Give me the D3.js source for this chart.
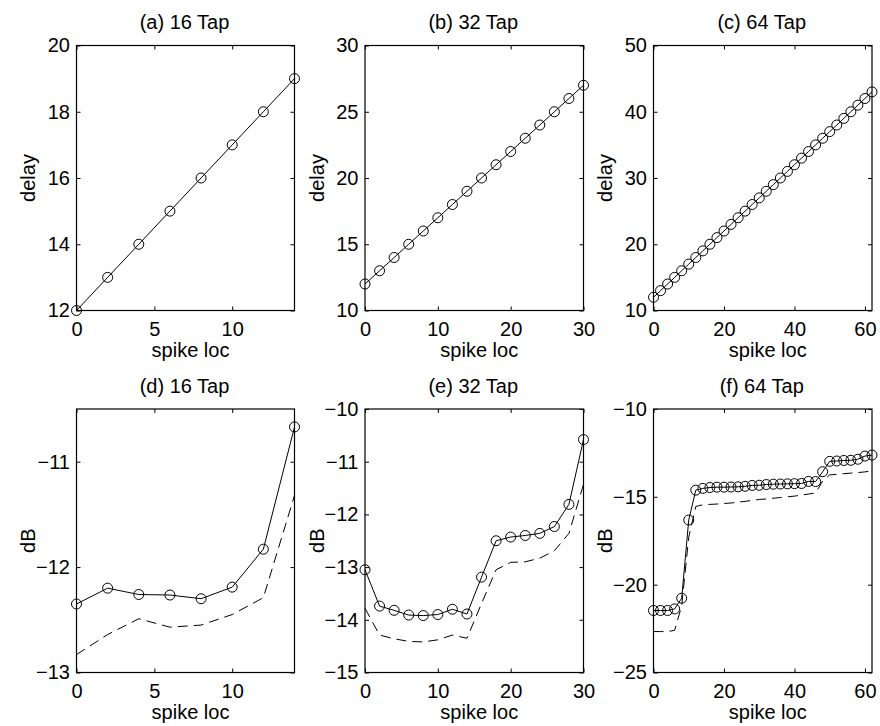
<!DOCTYPE html>
<html>
<head>
<meta charset="utf-8">
<script src="https://cdn.jsdelivr.net/npm/d3@7/dist/d3.min.js"></script>
<style>
  html, body { margin: 0; padding: 0; background: #fff; }
  svg { display: block; font-family: "Liberation Sans", Arial, Helvetica, sans-serif; }
</style>
</head>
<body>
<svg id="chart" width="880" height="726"></svg>
<script>
// ---------------- data ----------------
const titles = ["(a) 16 Tap", "(b) 32 Tap", "(c) 64 Tap", "(d) 16 Tap", "(e) 32 Tap", "(f) 64 Tap"];
const xLabel = "spike loc";
const yLabelTop = "delay";
const yLabelBottom = "dB";

const spikeLoc16 = [0, 2, 4, 6, 8, 10, 12, 14];
const spikeLoc32 = [0, 2, 4, 6, 8, 10, 12, 14, 16, 18, 20, 22, 24, 26, 28, 30];
const spikeLoc64 = [0, 2, 4, 6, 8, 10, 12, 14, 16, 18, 20, 22, 24, 26, 28, 30,
                    32, 34, 36, 38, 40, 42, 44, 46, 48, 50, 52, 54, 56, 58, 60, 62];

const delay16 = [12, 13, 14, 15, 16, 17, 18, 19];
const delay32 = [12, 13, 14, 15, 16, 17, 18, 19, 20, 21, 22, 23, 24, 25, 26, 27];
const delay64 = [12, 13, 14, 15, 16, 17, 18, 19, 20, 21, 22, 23, 24, 25, 26, 27,
                 28, 29, 30, 31, 32, 33, 34, 35, 36, 37, 38, 39, 40, 41, 42, 43];

const dB16Solid  = [-12.35, -12.20, -12.26, -12.265, -12.30, -12.19, -11.83, -10.67];
const dB16Dashed = [-12.83, -12.64, -12.49, -12.57, -12.55, -12.45, -12.29, -11.32];

const dB32Solid  = [-13.05, -13.74, -13.82, -13.91, -13.92, -13.90, -13.80, -13.89,
                    -13.19, -12.50, -12.43, -12.40, -12.36, -12.23, -11.81, -10.58];
const dB32Dashed = [-13.78, -14.29, -14.36, -14.41, -14.42, -14.38, -14.29, -14.35,
                    -13.69, -13.05, -12.91, -12.90, -12.83, -12.69, -12.36, -11.43];

const dB64Solid  = [-21.47, -21.47, -21.47, -21.38, -20.77, -16.32, -14.62, -14.52,
                    -14.47, -14.45, -14.45, -14.44, -14.43, -14.40, -14.35, -14.34,
                    -14.30, -14.28, -14.27, -14.26, -14.25, -14.24, -14.12, -14.13,
                    -13.57, -12.98, -12.96, -12.93, -12.92, -12.86, -12.68, -12.62];
const dB64Dashed = [-22.67, -22.67, -22.67, -22.60, -21.20, -17.30, -15.55, -15.45,
                    -15.43, -15.41, -15.38, -15.35, -15.30, -15.26, -15.20, -15.15,
                    -15.12, -15.08, -15.04, -15.00, -14.96, -14.90, -14.84, -14.78,
                    -14.10, -13.75, -13.72, -13.68, -13.65, -13.62, -13.58, -13.52];

const xDomains = [[0, 14], [0, 30], [0, 62]];
const xTicks = [[0, 5, 10], [0, 10, 20, 30], [0, 20, 40, 60]];
const yDomainsTop = [[12, 20], [10, 30], [10, 50]];
const yTicksTop = [[12, 14, 16, 18, 20], [10, 15, 20, 25, 30], [10, 20, 30, 40, 50]];
const yDomainsBottom = [[-13, -10.5], [-15, -10], [-25, -10]];
const yTicksBottom = [[-13, -12, -11], [-15, -14, -13, -12, -11, -10], [-25, -20, -15, -10]];

// ---------------- layout ----------------
const colX = [[76.5, 294.5], [365, 583.5], [653.5, 872]];
const rowY = [[45.5, 310.5], [409, 672.5]];
const FS = 20;

const svg = d3.select("#chart");
const fmt = d3.format("d");

function panel(col, row, title, xs, ysSolid, ysDashed, xDom, xTv, yDom, yTv, yLab) {
  const [x0, x1] = colX[col];
  const [y0, y1] = rowY[row];
  const x = d3.scaleLinear().domain(xDom).range([x0, x1]);
  const y = d3.scaleLinear().domain(yDom).range([y1, y0]);
  const g = svg.append("g");

  g.append("rect").attr("x", x0).attr("y", y0).attr("width", x1 - x0).attr("height", y1 - y0)
    .attr("fill", "none").attr("stroke", "#000").attr("stroke-width", 1.2);

  const styleAxis = sel => {
    sel.select(".domain").remove();
    sel.selectAll(".tick line").attr("stroke", "#000").attr("stroke-width", 1);
    sel.selectAll(".tick text").attr("fill", "#000").style("font-size", FS + "px")
      .style("font-family", "'Liberation Sans', Arial, sans-serif");
  };

  g.append("g").attr("transform", `translate(0,${y1})`)
    .call(d3.axisBottom(x).tickValues(xTv).tickSize(-4).tickPadding(11).tickFormat(fmt)).call(styleAxis);
  g.append("g").attr("transform", `translate(0,${y0})`)
    .call(d3.axisTop(x).tickValues(xTv).tickSize(-4).tickFormat("")).call(styleAxis);
  g.append("g").attr("transform", `translate(${x0},0)`)
    .call(d3.axisLeft(y).tickValues(yTv).tickSize(-4).tickPadding(6.5).tickFormat(fmt)).call(styleAxis);
  g.append("g").attr("transform", `translate(${x1},0)`)
    .call(d3.axisRight(y).tickValues(yTv).tickSize(-4).tickFormat("")).call(styleAxis);

  g.append("text").attr("x", (x0 + x1) / 2 - 1).attr("y", y0 - 16.5).attr("text-anchor", "middle")
    .style("font-size", FS + "px").text(title);
  g.append("text").attr("x", (x0 + x1) / 2 + 5).attr("y", y1 + 46).attr("text-anchor", "middle")
    .style("font-size", FS + "px").text(xLabel);
  g.append("text").attr("transform", `translate(${x0 - 41.5},${(y0 + y1) / 2}) rotate(-90)`)
    .attr("text-anchor", "middle").style("font-size", FS + "px").text(yLab);

  const line = d3.line().x((d, i) => x(xs[i])).y(d => y(d));
  if (ysDashed) {
    g.append("path").datum(ysDashed).attr("d", line).attr("fill", "none")
      .attr("stroke", "#000").attr("stroke-width", 1).attr("stroke-dasharray", "10,6");
  }
  g.append("path").datum(ysSolid).attr("d", line).attr("fill", "none")
    .attr("stroke", "#000").attr("stroke-width", 1);
  g.selectAll("circle.m").data(ysSolid).enter().append("circle").attr("class", "m")
    .attr("cx", (d, i) => x(xs[i])).attr("cy", d => y(d)).attr("r", 5)
    .attr("fill", "none").attr("stroke", "#000").attr("stroke-width", 1);
}

const locs = [spikeLoc16, spikeLoc32, spikeLoc64];
const delays = [delay16, delay32, delay64];
const solids = [dB16Solid, dB32Solid, dB64Solid];
const dashes = [dB16Dashed, dB32Dashed, dB64Dashed];

for (let c = 0; c < 3; c++) {
  panel(c, 0, titles[c], locs[c], delays[c], null, xDomains[c], xTicks[c], yDomainsTop[c], yTicksTop[c], yLabelTop);
  panel(c, 1, titles[c + 3], locs[c], solids[c], dashes[c], xDomains[c], xTicks[c], yDomainsBottom[c], yTicksBottom[c], yLabelBottom);
}
</script>
</body>
</html>
